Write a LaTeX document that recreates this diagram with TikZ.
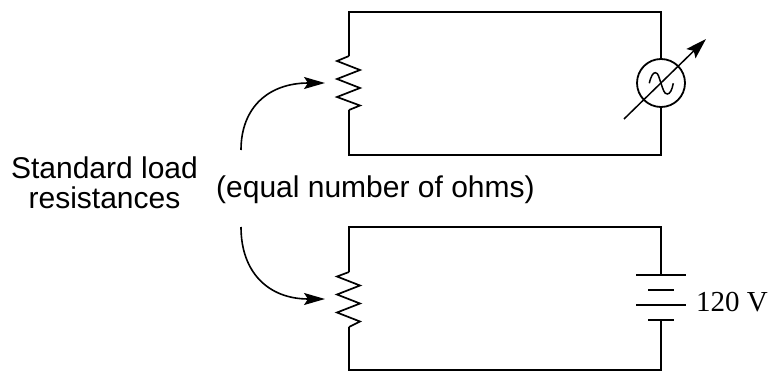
\documentclass[tikz,border=0pt]{standalone}
\usepackage{fontspec}
\setmainfont{Liberation Sans}
\newfontfamily\serifv{Liberation Serif}
\usetikzlibrary{arrows.meta}
\tikzset{
  wire/.style={line width=2pt,line join=miter},
  thinwire/.style={line width=1.5pt},
  curvearrow/.style={line width=1.6pt,-{Stealth[length=21pt,width=12pt,inset=4pt]}},
  label/.style={inner sep=0pt,anchor=base,font=\fontsize{30}{30}\selectfont},
  meter/.style={circle,draw,line width=1.8pt,minimum size=48pt,inner sep=0pt}
}
\begin{document}
\begin{tikzpicture}[x=1pt,y=-1pt]
\useasboundingbox (0,0) rectangle (769,372);
% top circuit
\coordinate (tl) at (349,12);
\coordinate (tr) at (661,12);
\coordinate (bl) at (349,155);
\coordinate (br) at (661,155);
\coordinate (r1a) at (349,56);
\coordinate (r1b) at (349,110);
\node[meter] (m) at (661,83) {};
\draw[wire] (m.north) -- (tr) -- (tl) -- (r1a);
\draw[wire,line width=1.7pt] (r1a) -- ++(-12,5) -- ++(23,9) -- ++(-23,9) -- ++(23,9) -- ++(-23,9) -- ++(23,8.5) -- (r1b);
\draw[wire] (r1b) -- (bl) -- (br) -- (m.south);
\draw[thinwire] (649.3,83.3) .. controls (651,76) and (653,72.7) .. (655.3,72.7)
  .. controls (658.5,72.7) and (659,78) .. (661,83.3)
  .. controls (663,89) and (664,94) .. (667.3,94)
  .. controls (670,94) and (672,90) .. (673.3,83.3);
\coordinate (ma) at (624,119);
\coordinate (mb) at (706,39);
\draw[thinwire,-{Stealth[length=21pt,width=13pt,inset=4pt]}] (ma) -- (mb);
% bottom circuit
\coordinate (tl2) at (349,227);
\coordinate (tr2) at (661,227);
\coordinate (bl2) at (349,370);
\coordinate (br2) at (661,370);
\coordinate (r2a) at (349,272);
\coordinate (r2b) at (349,327);
\coordinate (b1) at (661,275);
\coordinate (b4) at (661,320);
\draw[wire] (b1) -- (tr2) -- (tl2) -- (r2a);
\draw[wire,line width=1.7pt] (r2a) -- ++(-12,4.5) -- ++(23,9) -- ++(-23,9) -- ++(23,9) -- ++(-23,9) -- ++(23,9) -- (r2b);
\draw[wire] (r2b) -- (bl2) -- (br2) -- (b4);
\draw[wire] (636,275) -- (686,275);
\draw[wire] (648,290) -- (674,290);
\draw[wire] (636,305) -- (686,305);
\draw[wire] (648,320) -- (674,320);
% labels
\node[label] (std1) at (104.5,178) {Standard load};
\node[label] (std2) at (104.5,208) {resistances};
\node[label,anchor=base west] (eq) at (216,197) {(equal number of ohms)};
\node[inner sep=0pt,anchor=base west,font=\serifv\fontsize{29}{30}\selectfont] (v) at (696,311) {120 V};
% curved arrows
\coordinate (ca) at (241,150);
\coordinate (cb) at (241,227);
\coordinate (ta) at (325,83);
\coordinate (tb) at (325,299);
\draw[curvearrow] (ca) .. controls (241,108) and (268,83) .. (ta);
\draw[curvearrow] (cb) .. controls (241,272) and (268,299) .. (tb);
\end{tikzpicture}
\end{document}
